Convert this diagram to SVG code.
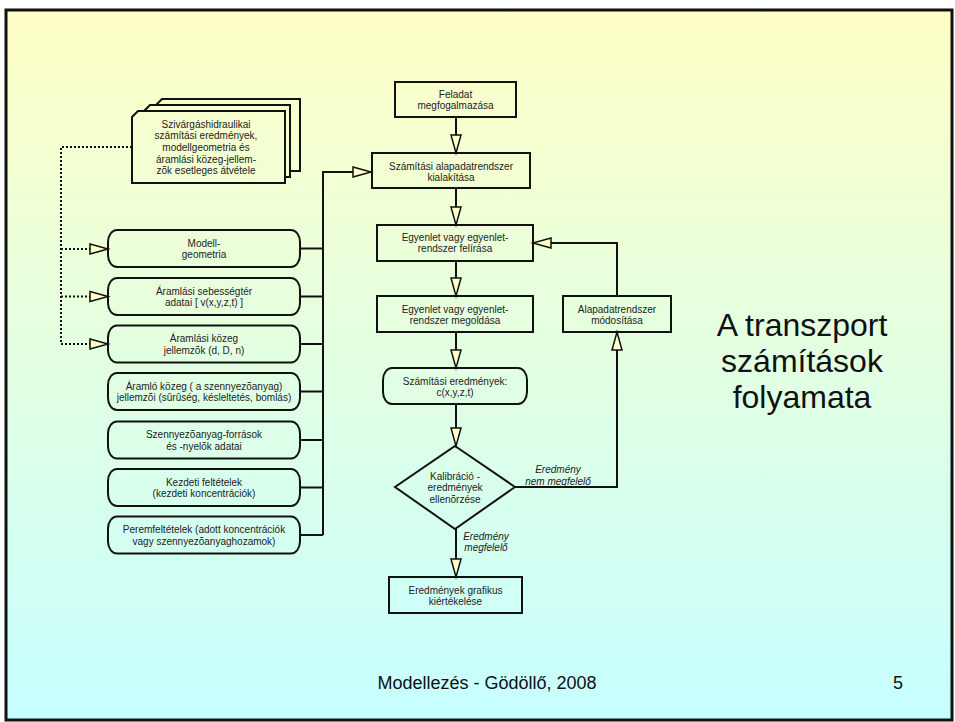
<svg xmlns="http://www.w3.org/2000/svg" width="955" height="722" viewBox="0 0 955 722">
<defs>
<linearGradient id="bg" gradientUnits="userSpaceOnUse" x1="0" y1="10" x2="0" y2="720">
<stop offset="0" stop-color="#FFFFC6"/>
<stop offset="0.5" stop-color="#E2FFE2"/>
<stop offset="1" stop-color="#C6FFFF"/>
</linearGradient>
<marker id="ah" markerUnits="userSpaceOnUse" markerWidth="20" markerHeight="12" refX="0" refY="5" orient="auto" overflow="visible">
<path d="M0,0 L18,5 L0,10 Z" fill="url(#bg)" stroke="#111" stroke-width="1.5"/>
</marker>
</defs>
<style>
.box{fill:none;stroke:#111;stroke-width:2}
.doc{fill:url(#bg);stroke:#111;stroke-width:2}
.ln{fill:none;stroke:#111;stroke-width:2}
.dot{fill:none;stroke:#111;stroke-width:2;stroke-dasharray:2 2}
.t{font-family:"Liberation Sans",Arial,sans-serif;font-size:10px;fill:#222;text-anchor:middle}
.it{font-style:italic}
.title{font-family:"Liberation Sans",Arial,sans-serif;font-size:32px;fill:#111;text-anchor:middle}
.foot{font-family:"Liberation Sans",Arial,sans-serif;font-size:18px;fill:#111;text-anchor:middle}
</style>
<rect x="0" y="0" width="955" height="722" fill="#fff"/>
<rect x="6" y="10" width="946" height="710" fill="url(#bg)" stroke="#111" stroke-width="3"/>

<g id="connectors">
<line class="ln" x1="456" y1="117" x2="456" y2="135" marker-end="url(#ah)"/>
<line class="ln" x1="456" y1="188" x2="456" y2="207" marker-end="url(#ah)"/>
<line class="ln" x1="456" y1="261" x2="456" y2="278" marker-end="url(#ah)"/>
<line class="ln" x1="456" y1="332" x2="456" y2="350" marker-end="url(#ah)"/>
<line class="ln" x1="456" y1="404" x2="456" y2="428" marker-end="url(#ah)"/>
<line class="ln" x1="456" y1="529" x2="456" y2="559" marker-end="url(#ah)"/>
<polyline class="ln" points="515,487 617,487 617,350" marker-end="url(#ah)"/>
<polyline class="ln" points="617,296 617,243 551,243" marker-end="url(#ah)"/>
<polyline class="ln" points="323,535 323,172 353,172" marker-end="url(#ah)"/>
<line class="ln" x1="300" y1="248.5" x2="323" y2="248.5"/>
<line class="ln" x1="300" y1="296.5" x2="323" y2="296.5"/>
<line class="ln" x1="300" y1="344" x2="323" y2="344"/>
<line class="ln" x1="300" y1="391.5" x2="323" y2="391.5"/>
<line class="ln" x1="300" y1="440" x2="323" y2="440"/>
<line class="ln" x1="300" y1="487.5" x2="323" y2="487.5"/>
<line class="ln" x1="300" y1="535" x2="323" y2="535"/>
<polyline class="dot" points="132,147 61,147 61,344 90,344" marker-end="url(#ah)"/>
<line class="dot" x1="61" y1="249" x2="90" y2="249" marker-end="url(#ah)"/>
<line class="dot" x1="61" y1="296.5" x2="90" y2="296.5" marker-end="url(#ah)"/>
<text class="t it" x="558" y="472.5">Eredmény</text>
<text class="t it" x="558" y="484.5">nem megfelelő</text>
<text class="t it" x="486" y="539.5">Eredmény</text>
<text class="t it" x="486" y="551">megfelelő</text>
</g>

<g id="doc-stack">
<polygon class="doc" points="162,99 300,99 300,171 156,171 156,105"/>
<polygon class="doc" points="150,105 290,105 290,177 144,177 144,111"/>
<polygon class="doc" points="138,111 285,111 285,183 132,183 132,117"/>
<text class="t" x="206" y="127.5">Szivárgáshidraulikai</text>
<text class="t" x="206" y="139.2">számítási eredmények,</text>
<text class="t" x="206" y="150.9">modellgeometria és</text>
<text class="t" x="206" y="162.6">áramlási közeg-jellem-</text>
<text class="t" x="206" y="174.3">zõk esetleges átvétele</text>
</g>

<g id="in-geometria">
<rect class="box" x="108" y="230" width="192" height="37" rx="9" ry="12"/>
<text class="t" x="204" y="246.5">Modell-</text>
<text class="t" x="204" y="258">geometria</text>
</g>
<g id="in-sebesseg">
<rect class="box" x="108" y="278" width="192" height="37" rx="9" ry="12"/>
<text class="t" x="204" y="294.5">Áramlási sebességtér</text>
<text class="t" x="204" y="306">adatai [ v(x,y,z,t) ]</text>
</g>
<g id="in-kozeg">
<rect class="box" x="108" y="325.5" width="192" height="37" rx="9" ry="12"/>
<text class="t" x="204" y="342">Áramlási közeg</text>
<text class="t" x="204" y="353.5">jellemzõk (d, D, n)</text>
</g>
<g id="in-aramlo">
<rect class="box" x="108" y="373" width="192" height="37" rx="9" ry="12"/>
<text class="t" x="204" y="389.5">Áramló közeg ( a szennyezõanyag)</text>
<text class="t" x="204" y="401">jellemzõi (sûrûség, késleltetés, bomlás)</text>
</g>
<g id="in-forrasok">
<rect class="box" x="108" y="421.5" width="192" height="37" rx="9" ry="12"/>
<text class="t" x="204" y="438">Szennyezõanyag-források</text>
<text class="t" x="204" y="449.5">és -nyelõk adatai</text>
</g>
<g id="in-kezdeti">
<rect class="box" x="108" y="469" width="192" height="37" rx="9" ry="12"/>
<text class="t" x="204" y="485.5">Kezdeti feltételek</text>
<text class="t" x="204" y="497">(kezdeti koncentrációk)</text>
</g>
<g id="in-perem">
<rect class="box" x="108" y="516.5" width="192" height="37" rx="9" ry="12"/>
<text class="t" x="204" y="533">Peremfeltételek (adott koncentrációk</text>
<text class="t" x="204" y="544.5">vagy szennyezõanyaghozamok)</text>
</g>

<g id="feladat">
<rect class="box" x="395" y="82" width="121" height="35"/>
<text class="t" x="455.5" y="97.5">Feladat</text>
<text class="t" x="455.5" y="108.5">megfogalmazása</text>
</g>
<g id="alapadat">
<rect class="box" x="372" y="153" width="158" height="35"/>
<text class="t" x="451" y="169.5">Számítási alapadatrendszer</text>
<text class="t" x="451" y="180.5">kialakítása</text>
</g>
<g id="felirasa">
<rect class="box" x="377" y="225" width="156" height="36"/>
<text class="t" x="455" y="240.5">Egyenlet vagy egyenlet-</text>
<text class="t" x="455" y="252">rendszer felírása</text>
</g>
<g id="megoldasa">
<rect class="box" x="377" y="296" width="156" height="36"/>
<text class="t" x="455" y="312.5">Egyenlet vagy egyenlet-</text>
<text class="t" x="455" y="324">rendszer megoldása</text>
</g>
<g id="modositasa">
<rect class="box" x="563" y="296" width="108" height="36"/>
<text class="t" x="617" y="312.5">Alapadatrendszer</text>
<text class="t" x="617" y="324">módosítása</text>
</g>
<g id="eredmenyek">
<rect class="box" x="383" y="368" width="144" height="36" rx="9" ry="12"/>
<text class="t" x="455" y="384.5">Számítási eredmények:</text>
<text class="t" x="455" y="396">c(x,y,z,t)</text>
</g>
<g id="kalibracio">
<polygon class="box" points="455,446 515,487 455,529 395,487"/>
<text class="t" x="455" y="479.5">Kalibráció -</text>
<text class="t" x="455" y="491">eredmények</text>
<text class="t" x="455" y="502.5">ellenõrzése</text>
</g>
<g id="grafikus">
<rect class="box" x="389" y="577" width="133" height="36"/>
<text class="t" x="455.5" y="593.5">Eredmények grafikus</text>
<text class="t" x="455.5" y="605">kiértékelése</text>
</g>

<g id="title">
<text class="title" x="802" y="336">A transzport</text>
<text class="title" x="802" y="372">számítások</text>
<text class="title" x="802" y="408">folyamata</text>
</g>
<g id="footer">
<text class="foot" x="487" y="689">Modellezés - Gödöllő, 2008</text>
<text class="foot" x="898" y="689">5</text>
</g>
</svg>
